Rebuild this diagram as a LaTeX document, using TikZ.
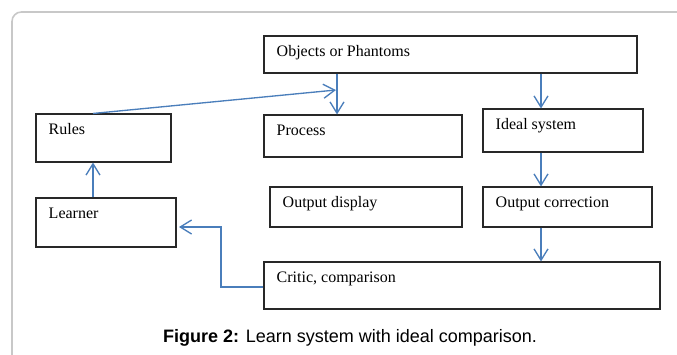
\documentclass[tikz,border=0pt]{standalone}
\usepackage{fontspec}
\setmainfont{Liberation Serif}
\newfontfamily\capfont{Liberation Sans}
\usetikzlibrary{arrows.meta,calc,fit}
\definecolor{arrowblue}{RGB}{74,126,187}
\definecolor{panelgray}{RGB}{200,200,200}
\definecolor{boxline}{RGB}{40,40,40}
\begin{document}
\begin{tikzpicture}[x=0.75pt,y=-0.75pt,
  box/.style={draw=boxline,line width=0.8pt,rectangle,inner sep=0pt},
  lbl/.style={anchor=base west,inner sep=0pt,font=\fontsize{12}{14}\selectfont},
  arr/.style={draw=arrowblue,line width=1pt,-{Straight Barb[length=8.5pt,width=10.5pt]}},
  flow/.style={draw=arrowblue,line width=1pt}]
\useasboundingbox[fill=white] (0,0) rectangle (677,354);
% panel
\draw[panelgray,line width=1.2pt,rounded corners=7] (12,360) -- (12,12) -- (690,12);
% boxes
\node[box,fit={(264,36) (637,73)}] (obj) {};
\node[box,fit={(36,114) (171,162)}] (rules) {};
\node[box,fit={(264,115) (462,157)}] (proc) {};
\node[box,fit={(483,109) (643,152)}] (ideal) {};
\node[box,fit={(270,187) (462,227)}] (disp) {};
\node[box,fit={(483,187) (652,227)}] (corr) {};
\node[box,fit={(36,198) (176,247)}] (learn) {};
\node[box,fit={(264,262) (660,309)}] (crit) {};
% labels
\node[lbl] (tobj) at ($(obj.north west)+(13,21)$) {Objects or Phantoms};
\node[lbl] (trules) at ($(rules.north west)+(13,21)$) {Rules};
\node[lbl] (tproc) at ($(proc.north west)+(13,21)$) {Process};
\node[lbl] (tideal) at ($(ideal.north west)+(13,21)$) {Ideal system};
\node[lbl] (tdisp) at ($(disp.north west)+(13,21)$) {Output display};
\node[lbl] (tcorr) at ($(corr.north west)+(13,21)$) {Output correction};
\node[lbl] (tlearn) at ($(learn.north west)+(13,21)$) {Learner};
\node[lbl] (tcrit) at ($(crit.north west)+(13,21)$) {Critic, comparison};
% connector coordinates
\coordinate (xa) at (337,0);
\coordinate (xb) at (541,0);
\coordinate (xr) at (93,0);
\coordinate (dtip) at (336,90);
\coordinate (elb) at (221,287);
\coordinate (ltip) at (179,227);
% connectors
\draw[arr] (obj.south -| xa) -- (proc.north -| xa);
\draw[arr] (obj.south -| xb) -- (ideal.north -| xb);
\draw[arr] (ideal.south -| xb) -- (corr.north -| xb);
\draw[arr] (corr.south -| xb) -- (crit.north -| xb);
\draw[arr] (rules.north -| xr) -- (dtip);
\draw[arr] (learn.north -| xr) -- (rules.south -| xr);
\draw[arr] (crit.west |- elb) -- (elb) -- (elb |- ltip) -- (ltip);
% caption
\node[anchor=base,inner sep=0pt,font=\capfont\fontsize{13.5}{16}\selectfont] (cap) at (350,342)
  {\textbf{Figure 2:} Learn system with ideal comparison.};
\end{tikzpicture}
\end{document}
